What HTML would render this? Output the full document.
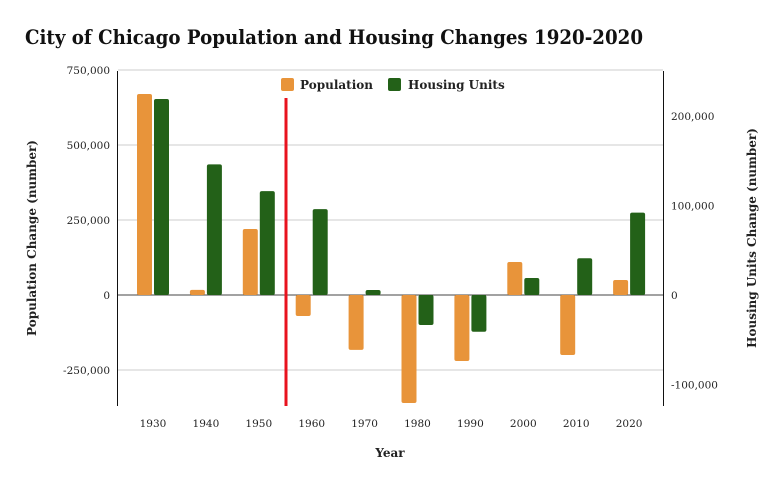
<!DOCTYPE html>
<html><head><meta charset="utf-8"><style>
body{margin:0;background:#fff;}
svg{display:block;font-family:"DejaVu Serif","Liberation Serif",serif;}
</style></head><body>
<svg id="chart" width="782" height="484">
<text x="25" y="44" font-size="19.5" font-weight="bold" fill="#111" textLength="618" lengthAdjust="spacingAndGlyphs">City of Chicago Population and Housing Changes 1920-2020</text>
<g id="grid"></g><g id="bars"></g><g id="axes"></g>
<g>
<rect x="281" y="78" width="13" height="13" rx="2" fill="#e8943a"/>
<text x="300" y="89" font-size="12" font-weight="bold" fill="#222">Population</text>
<rect x="388" y="78" width="13" height="13" rx="2" fill="#236118"/>
<text x="408" y="89" font-size="12" font-weight="bold" fill="#222">Housing Units</text>
</g>
<text x="390" y="457" font-size="12" font-weight="bold" text-anchor="middle" fill="#222">Year</text>
<text transform="translate(36,238) rotate(-90)" font-size="12" font-weight="bold" text-anchor="middle" fill="#222">Population Change (number)</text>
<text transform="translate(756,238) rotate(-90)" font-size="12" font-weight="bold" text-anchor="middle" fill="#222">Housing Units Change (number)</text>
</svg>
<script>
const years=["1930","1940","1950","1960","1970","1980","1990","2000","2010","2020"];
const population=[670000,17000,220000,-70000,-183000,-360000,-220000,110000,-200000,50000];
const housing=[219000,146000,116000,96000,5600,-33500,-41000,19000,41000,92000];
const leftTicks=[750000,500000,250000,0,-250000];
const rightTicks=[200000,100000,0,-100000];
const NS="http://www.w3.org/2000/svg";
const X0=118,X1=663,Y0=295,YT=71,YB=406;
const yL=v=>Y0-v*75/250000;
const yR=v=>Y0-v*89.5/100000;
const step=52.9;
const xC=i=>153+step*i;
function mk(t,a,p){const e=document.createElementNS(NS,t);for(const k in a)e.setAttribute(k,a[k]);p.appendChild(e);return e;}
const grid=document.getElementById('grid'),bars=document.getElementById('bars'),axes=document.getElementById('axes');
const fmt=v=>v.toLocaleString('en-US');
leftTicks.forEach(v=>{
  const l=mk('line',{x1:X0,x2:X1,y1:yL(v),y2:yL(v),stroke:v===0?'#444':'#ccc','stroke-width':1},grid);
  
  
  const t=mk('text',{x:X0-8,y:yL(v)+4,'font-size':10.5,'text-anchor':'end',fill:'#222'},axes);
  t.textContent=fmt(v);
  
  
});
rightTicks.forEach(v=>{
  const t=mk('text',{x:X1+8,y:yR(v)+4,'font-size':10.5,'text-anchor':'start',fill:'#222'},axes);
  t.textContent=fmt(v);
  
  
});
years.forEach((y,i)=>{
  const c=xC(i);
  const p=population[i],h=housing[i];
  const b1=mk('rect',{x:c-16,y:Math.min(yL(p),Y0),width:15,height:Math.abs(yL(p)-Y0),rx:2,fill:'#e8943a'},bars);
  
  
  const b2=mk('rect',{x:c+1,y:Math.min(yR(h),Y0),width:15,height:Math.abs(yR(h)-Y0),rx:2,fill:'#236118'},bars);
  
  
  const t=mk('text',{x:c,y:427,'font-size':10.5,'text-anchor':'middle',fill:'#222'},axes);
  t.textContent=y;
  
  
});
const la=mk('line',{x1:X0-0.5,x2:X0-0.5,y1:YT,y2:YB,stroke:'#111'},axes);


const ra=mk('line',{x1:X1+0.5,x2:X1+0.5,y1:YT,y2:YB,stroke:'#111'},axes);


const rl=mk('line',{x1:286,x2:286,y1:98,y2:YB,stroke:'#e8121e','stroke-width':3},axes);


</script>
</body></html>
